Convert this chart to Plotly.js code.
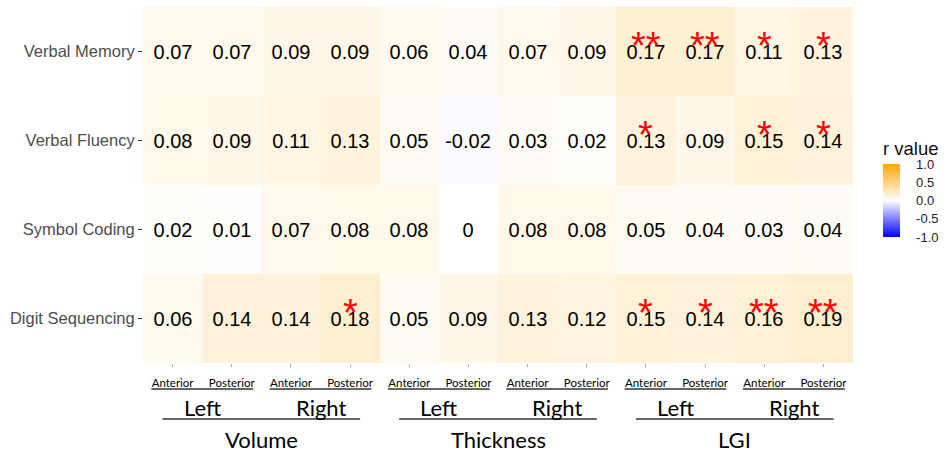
<!DOCTYPE html>
<html>
<head>
<meta charset="utf-8">
<script src="https://cdn.plot.ly/plotly-3.0.1.min.js"></script>
<style>html,body{margin:0;padding:0;background:#fff;}#chart{width:948px;height:452px;}</style>
</head>
<body>
<div id="chart"></div>
<script>
// Rows (top to bottom)
const tests = ["Verbal Memory", "Verbal Fluency", "Symbol Coding", "Digit Sequencing"];
// Column descriptors
const regions = ["Anterior", "Posterior", "Anterior", "Posterior", "Anterior", "Posterior", "Anterior", "Posterior", "Anterior", "Posterior", "Anterior", "Posterior"];
const hemispheres = ["Left", "Right", "Left", "Right", "Left", "Right"];
const measures = ["Volume", "Thickness", "LGI"];

// r values per row
const verbalMemory    = [0.07, 0.07, 0.09, 0.09, 0.06, 0.04, 0.07, 0.09, 0.17, 0.17, 0.11, 0.13];
const verbalFluency   = [0.08, 0.09, 0.11, 0.13, 0.05, -0.02, 0.03, 0.02, 0.13, 0.09, 0.15, 0.14];
const symbolCoding    = [0.02, 0.01, 0.07, 0.08, 0.08, 0, 0.08, 0.08, 0.05, 0.04, 0.03, 0.04];
const digitSequencing = [0.06, 0.14, 0.14, 0.18, 0.05, 0.09, 0.13, 0.12, 0.15, 0.14, 0.16, 0.19];

// significance stars per row
const starsVM = ["", "", "", "", "", "", "", "", "**", "**", "*", "*"];
const starsVF = ["", "", "", "", "", "", "", "", "*", "", "*", "*"];
const starsSC = ["", "", "", "", "", "", "", "", "", "", "", ""];
const starsDS = ["", "", "", "*", "", "", "", "", "*", "*", "**", "**"];

// colorbar ticks
const cbTickVals = [-1, -0.5, 0, 0.5, 1];
const cbTickText = ["-1.0", "-0.5", "0.0", "0.5", "1.0"];

const z = [verbalMemory, verbalFluency, symbolCoding, digitSequencing];
const stars = [starsVM, starsVF, starsSC, starsDS];
const cols = regions.map((_, i) => i);
const txt = z.map(r => r.map(v => String(v)));

const pyToPaper = py => 1 - (py - 7) / 356;

const trace = {
  type: "heatmap",
  x: cols,
  y: tests,
  z: z,
  text: txt,
  texttemplate: "%{text}",
  textfont: {family: "Liberation Sans, Arial, sans-serif", size: 20, color: "#000"},
  zmin: -1, zmax: 1,
  colorscale: [[0, "#0000FF"], [0.5, "#FFFFFF"], [1, "#FFA500"]],
  xgap: 0, ygap: 0,
  hoverinfo: "skip",
  colorbar: {
    title: {text: "r value", side: "top", font: {family: "Liberation Sans, Arial, sans-serif", size: 18.5, color: "#111"}},
    x: 1.0423, xanchor: "left", xpad: 0,
    y: pyToPaper(237), yanchor: "bottom", ypad: 0,
    len: 99, lenmode: "pixels",
    thickness: 17, thicknessmode: "pixels",
    outlinewidth: 0,
    tickvals: cbTickVals,
    ticktext: cbTickText,
    ticks: "outside", ticklen: 14, tickcolor: "rgba(0,0,0,0)",
    tickfont: {family: "Liberation Sans, Arial, sans-serif", size: 13, color: "#222"}
  }
};

const annotations = [];
const shapes = [];
stars.forEach((row, ri) => row.forEach((s, ci) => {
  if (s) annotations.push({
    x: ci, y: tests[ri], xref: "x", yref: "y", text: s, showarrow: false,
    font: {family: "Liberation Sans, Arial, sans-serif", size: 38, color: "#FF0000"},
    yshift: 6
  });
}));

// pair underlines and hemisphere labels
hemispheres.forEach((h, i) => {
  const c = 2 * i + 0.5;
  shapes.push({type: "line", xref: "x", yref: "paper", x0: c - 0.86, x1: c + 0.86,
    y0: pyToPaper(389), y1: pyToPaper(389), line: {color: "#333", width: 1.3}});
  annotations.push({x: c, y: pyToPaper(407), xref: "x", yref: "paper", text: h, showarrow: false,
    yanchor: "middle", font: {family: "Lato, sans-serif", size: 22, color: "#000"}});
});
measures.forEach((m, i) => {
  const c = 4 * i + 1.5;
  shapes.push({type: "line", xref: "x", yref: "paper", x0: c - 1.67, x1: c + 1.67,
    y0: pyToPaper(419), y1: pyToPaper(419), line: {color: "#333", width: 1.6}});
  annotations.push({x: c, y: pyToPaper(439), xref: "x", yref: "paper", text: m, showarrow: false,
    yanchor: "middle", font: {family: "Lato, sans-serif", size: 22, color: "#000"}});
});

const layout = {
  width: 948, height: 452,
  margin: {l: 143, r: 95, t: 7, b: 89},
  paper_bgcolor: "#fff", plot_bgcolor: "#fff",
  xaxis: {
    tickvals: cols, ticktext: regions,
    ticks: "outside", ticklen: 3, tickcolor: "#aaa", tickwidth: 1,
    ticklabelstandoff: 6,
    tickfont: {family: "Lato, sans-serif", size: 11.5, color: "#000"},
    showgrid: false, zeroline: false, showline: false,
    range: [-0.5, 11.5], fixedrange: true
  },
  yaxis: {
    autorange: "reversed",
    ticks: "outside", ticklen: 4, tickcolor: "#333", tickwidth: 1.3,
    tickfont: {family: "Liberation Sans, Arial, sans-serif", size: 16.5, color: "#4d4d4d"},
    showgrid: false, zeroline: false, showline: false, fixedrange: true
  },
  annotations: annotations,
  shapes: shapes,
  showlegend: false
};

Plotly.newPlot("chart", [trace], layout, {displayModeBar: false, staticPlot: true});
</script>
</body>
</html>
